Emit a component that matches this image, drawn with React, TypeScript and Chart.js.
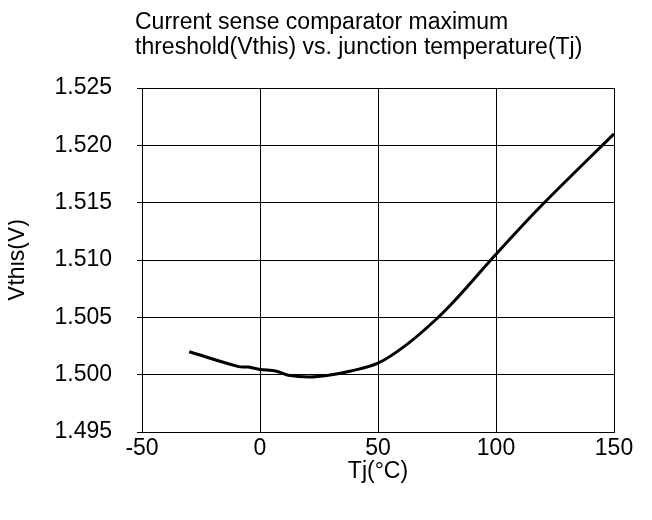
import React, { useEffect, useRef } from "react";
import { Chart, registerables } from "chart.js";

Chart.register(...registerables);

// ---- data ----
const tjValues: number[] = [-30, -9, -5, 0, 7, 12, 21, 29, 38, 50, 62, 75, 84, 100, 120, 150];
const vthisValues: number[] = [
  1.502, 1.5007, 1.50066, 1.50046, 1.5003, 1.49995, 1.4998, 1.49995, 1.5003, 1.501,
  1.5026, 1.5049, 1.5068, 1.5105, 1.5149, 1.521,
];
const titleLines: string[] = [
  "Current sense comparator maximum",
  "threshold(Vthis) vs. junction temperature(Tj)",
];
const xAxisTitle = "Tj(°C)";
const yAxisTitle = "Vthis(V)";
const xMin = -50;
const xMax = 150;
const xStep = 50;
const yMin = 1.495;
const yMax = 1.525;
const yStep = 0.005;

const FONT_FAMILY = "'Liberation Sans', Arial, sans-serif";
const FONT_SIZE = 23;

const titlePlugin = {
  id: "leftTitle",
  afterDraw(chart: any) {
    const { ctx, chartArea } = chart;
    ctx.save();
    ctx.fillStyle = "#000";
    ctx.font = `${FONT_SIZE}px ${FONT_FAMILY}`;
    ctx.textAlign = "left";
    ctx.textBaseline = "alphabetic";
    const x = chartArea.left - 7;
    ctx.fillText(titleLines[0], x, 21);
    ctx.fillText(titleLines[1], x, 46);
    ctx.restore();
  },
};

export default function App() {
  const ref = useRef<HTMLCanvasElement | null>(null);

  useEffect(() => {
    if (!ref.current) return;
    const points = tjValues.map((t, i) => ({ x: t, y: vthisValues[i] }));
    const chart = new Chart(ref.current, {
      type: "scatter",
      data: {
        datasets: [
          {
            data: points,
            showLine: true,
            borderColor: "#000",
            borderWidth: 3,
            pointRadius: 0,
            pointHoverRadius: 0,
            tension: 0.35,
            fill: false,
          },
        ],
      },
      options: {
        responsive: false,
        animation: false,
        layout: { padding: { top: 80, right: 30, left: 0, bottom: 0 } },
        plugins: {
          legend: { display: false },
          tooltip: { enabled: false },
          title: { display: false },
        },
        scales: {
          x: {
            type: "linear",
            min: xMin,
            max: xMax,
            ticks: {
              stepSize: xStep,
              color: "#000",
              font: { family: FONT_FAMILY, size: FONT_SIZE },
              padding: 3,
              maxRotation: 0,
            },
            grid: { color: "#000", lineWidth: 1, drawTicks: false },
            border: { color: "#000", width: 1 },
            title: {
              display: true,
              text: xAxisTitle,
              color: "#000",
              font: { family: FONT_FAMILY, size: FONT_SIZE },
              padding: { top: 0, bottom: 27 },
            },
            afterFit(scale: any) {
              scale.height = 80;
            },
          },
          y: {
            type: "linear",
            min: yMin,
            max: yMax,
            ticks: {
              stepSize: yStep,
              color: "#000",
              font: { family: FONT_FAMILY, size: FONT_SIZE },
              padding: 25,
              callback: (v: any) => Number(v).toFixed(3),
            },
            grid: { color: "#000", lineWidth: 1, tickLength: 5 },
            border: { color: "#000", width: 1 },
            title: {
              display: true,
              text: yAxisTitle,
              color: "#000",
              font: { family: FONT_FAMILY, size: FONT_SIZE },
              padding: { top: -4, bottom: 0 },
            },
            afterFit(scale: any) {
              scale.width = 134;
            },
          },
        },
      },
      plugins: [titlePlugin],
    });
    return () => chart.destroy();
  }, []);

  return (
    <div style={{ width: 636, height: 504 }}>
      <canvas ref={ref} width={636} height={504} />
    </div>
  );
}
